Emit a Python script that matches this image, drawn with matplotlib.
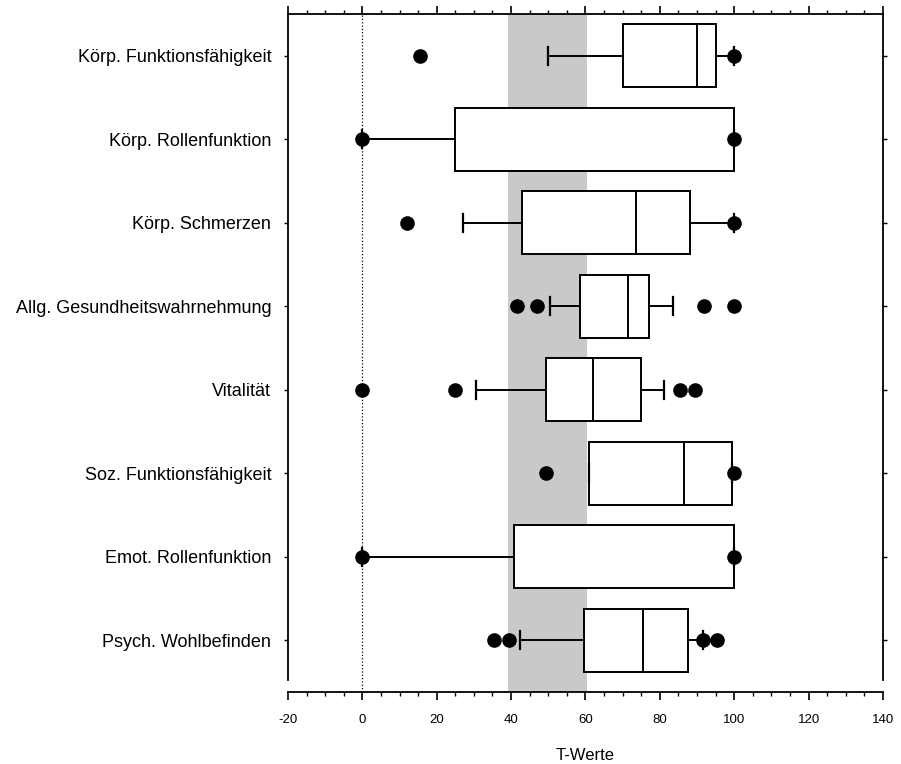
import matplotlib
matplotlib.use('Agg')
import matplotlib.pyplot as plt
from matplotlib.ticker import MultipleLocator

plt.rcParams['font.family'] = ['Liberation Sans', 'DejaVu Sans']
plt.rcParams['axes.unicode_minus'] = False

# Skalen des SF-36 (von oben nach unten)
skalen = ['Körp. Funktionsfähigkeit', 'Körp. Rollenfunktion', 'Körp. Schmerzen',
          'Allg. Gesundheitswahrnehmung', 'Vitalität', 'Soz. Funktionsfähigkeit',
          'Emot. Rollenfunktion', 'Psych. Wohlbefinden']

# Box-Werte
q1 = [70, 25, 43, 58.5, 49.5, 61, 40.7, 59.5]
median = [90, 100, 73.5, 71.5, 62, 86.5, 100, 75.5]
q3 = [95, 100, 88, 77, 75, 99.5, 100, 87.5]
whisker_unten = [50, 0, 27, 50.5, 30.5, 61, 0, 42.3]
whisker_oben = [100, 100, 100, 83.5, 81.2, 99.5, 100, 91.5]
ausreisser = [[15.5, 100], [0, 100], [12, 100], [41.5, 47, 92, 100],
              [0, 25, 85.5, 89.5], [49.5, 100], [0, 100], [35.5, 39.5, 91.5, 95.5]]

# Normbereich der T-Werte
norm_von, norm_bis = 39.3, 60.4

stats = []
for i in range(len(skalen)):
    stats.append({'q1': q1[i], 'med': median[i], 'q3': q3[i],
                  'whislo': whisker_unten[i], 'whishi': whisker_oben[i],
                  'fliers': ausreisser[i]})

fig = plt.figure(figsize=(9.01, 7.64), dpi=100)
ax = fig.add_axes([0.3196, 0.0942, 0.6604, 0.8875])

ax.axvspan(norm_von, norm_bis, color='#c9c9c9', zorder=0, lw=0)
ax.axvline(0, color='black', linestyle=':', lw=0.9, zorder=1)

pos = list(range(len(skalen)))
ax.bxp(stats, positions=pos, orientation='horizontal', widths=0.75, capwidths=0.22,
       patch_artist=True,
       boxprops=dict(facecolor='white', edgecolor='black', lw=1.4),
       medianprops=dict(color='black', lw=1.4),
       whiskerprops=dict(color='black', lw=1.4),
       capprops=dict(color='black', lw=1.6),
       flierprops=dict(marker='o', markerfacecolor='black', markeredgecolor='black',
                       markersize=9.5, linestyle='none'),
       zorder=2)

ax.set_xlim(-20, 140)
ax.set_ylim(7.62, -0.5)
ax.set_yticks(pos)
ax.set_yticklabels(skalen, fontsize=13)
ax.xaxis.set_major_locator(MultipleLocator(20))
ax.xaxis.set_minor_locator(MultipleLocator(5))
ax.tick_params(axis='x', which='major', direction='out', length=6, width=1.2,
               labelsize=9.5, top=True, pad=10)
ax.tick_params(axis='x', which='minor', direction='out', length=3, width=1, top=True)
ax.tick_params(axis='y', direction='out', length=3, width=1, right=True, pad=9)
ax.set_xlabel('T-Werte', fontsize=12, labelpad=16)

for s in ['left', 'right', 'top', 'bottom']:
    ax.spines[s].set_linewidth(1.3)
ax.spines['left'].set_bounds(7.47, -0.5)
ax.spines['right'].set_bounds(7.47, -0.5)

fig.savefig('out.png', dpi=100)
